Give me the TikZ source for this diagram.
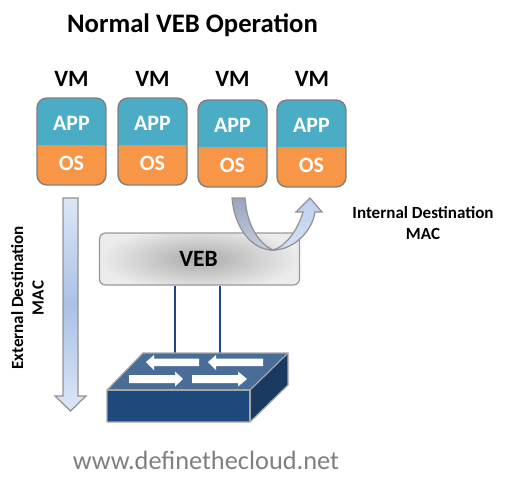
\documentclass[tikz,border=0pt]{standalone}
\usepackage{fontspec}
\setmainfont{Carlito}
\usetikzlibrary{positioning}
\definecolor{appblue}{HTML}{4BACC6}
\definecolor{osorange}{HTML}{F79646}
\definecolor{edgegrey}{HTML}{7F7F7F}
\definecolor{linkblue}{HTML}{1F497D}
\definecolor{swfront}{HTML}{1F497D}
\definecolor{swtop}{HTML}{4A6D98}
\definecolor{swside}{HTML}{1A3A62}
\definecolor{veblight}{HTML}{ECECEC}
\definecolor{webgrey}{HTML}{7F7F7F}
\definecolor{downpale}{HTML}{DDE6F5}
\definecolor{downmid}{HTML}{A9C1E8}
\definecolor{turndark}{HTML}{98A5BE}
\definecolor{turngrey}{HTML}{C3CDDF}
\definecolor{turnhead}{HTML}{BDD0F0}
\definecolor{turnpale}{HTML}{D3DFF5}
\tikzset{
  vmbox/.style={draw=edgegrey,line width=0.8pt,rounded corners=0.2cm,fill=appblue,minimum width=1.38cm,minimum height=1.74cm,inner sep=0pt,
    path picture={\fill[osorange,sharp corners] (path picture bounding box.south west) rectangle ([yshift=0.81cm]path picture bounding box.south east);}},
  vmtext/.style={font=\fontsize{13.3}{15}\selectfont\bfseries,inner sep=0pt},
  parttext/.style={font=\fontsize{12.5}{15}\selectfont\bfseries,text=white,inner sep=0pt},
  captext/.style={font=\fontsize{9.7}{11.6}\selectfont\bfseries,align=center,inner sep=0pt},
  arrowedge/.style={draw=edgegrey!85,line width=0.7pt},
  swedge/.style={draw=gray!70,line width=0.7pt},
  swarrow/.style={fill=white}
}
\begin{document}
\begin{tikzpicture}[x=0.02cm,y=-0.02cm]
  \useasboundingbox (0,0) rectangle (509,480);
  \node [font=\fontsize{15.2}{18}\selectfont\bfseries,inner sep=0pt] (title) at (192.5,25) {Normal VEB Operation};

  \node [vmbox] (vm1) at (71.5,141.5) {};
  \node [parttext] (app1) at (71.5,123) {APP};
  \node [parttext] (os1) at (71.5,163) {OS};
  \node [vmtext] (lab1) at (71.5,79) {VM};
  \node [vmbox] (vm2) at (152.5,141.5) {};
  \node [parttext] (app2) at (152.5,123) {APP};
  \node [parttext] (os2) at (152.5,163) {OS};
  \node [vmtext] (lab2) at (152.5,79) {VM};
  \node [vmbox] (vm3) at (232.5,143.5) {};
  \node [parttext] (app3) at (232.5,125) {APP};
  \node [parttext] (os3) at (232.5,165) {OS};
  \node [vmtext] (lab3) at (232.5,79) {VM};
  \node [vmbox] (vm4) at (311.5,143.5) {};
  \node [parttext] (app4) at (311.5,125) {APP};
  \node [parttext] (os4) at (311.5,165) {OS};
  \node [vmtext] (lab4) at (312,79) {VM};

  % down arrow
  \shade [arrowedge,top color=downpale,bottom color=downpale,middle color=downmid] (63,198) -- (78,198) -- (78,396) -- (86,396) -- (70.5,411) -- (55,396) -- (63,396) -- cycle;
  \node [captext,rotate=90] (extlab) at (27.5,298) {External Destination\\MAC};

  % veb and links
  \node [draw=gray!80,line width=0.7pt,rounded corners=0.12cm,fill=veblight,minimum width=4cm,minimum height=1.04cm,inner sep=0pt,
    path picture={\shade[inner color=black!33,outer color=veblight] (path picture bounding box.center) ellipse (2cm and 0.66cm);}] (veb) at (199.5,259) {};
  \node [vmtext] (veblab) at (198.5,259) {VEB};
  \coordinate (link1) at (175,353);
  \coordinate (link2) at (220,353);
  \draw [linkblue,line width=0.8pt] (veb.south -| link1) -- (link1);
  \draw [linkblue,line width=0.8pt] (veb.south -| link2) -- (link2);

  % switch
  \fill [swtop] (107,390) -- (143,353) -- (288,353) -- (250,390) -- cycle;
  \fill [swside] (250,390) -- (288,353) -- (288,385) -- (250,422) -- cycle;
  \fill [swfront] (107,390) rectangle (250,422);
  \draw [swedge] (107,390) -- (143,353) -- (288,353) -- (288,385) -- (250,422) -- (107,422) -- cycle;
  \draw [swedge] (107,390) -- (250,390) -- (250,422);
  \draw [swedge] (250,390) -- (288,353);
  \fill [swarrow] (146,362) -- (154,355) -- (154,358.5) -- (199,358.5) -- (199,366) -- (154,366) -- (154,370) -- cycle;
  \fill [swarrow] (208,362) -- (216,355) -- (216,358.5) -- (263,358.5) -- (263,366) -- (216,366) -- (216,370) -- cycle;
  \fill [swarrow] (183,379) -- (175,371.5) -- (175,375) -- (129,375) -- (129,383) -- (175,383) -- (175,386.5) -- cycle;
  \fill [swarrow] (247,379) -- (238,371.5) -- (238,375) -- (192,375) -- (192,383) -- (238,383) -- (238,386.5) -- cycle;

  % u-turn arrow
  \shade [arrowedge,top color=turndark,bottom color=turngrey] (232,198) -- (245,198) .. controls (247,225) and (258,243) .. (273,250) .. controls (250,250) and (234,225) .. cycle;
  \shade [arrowedge,top color=turnhead,bottom color=turnpale] (273,250) .. controls (285,247) and (298,230) .. (303,212) -- (296,212) -- (310,198) -- (322,212) -- (315,212) .. controls (312,232) and (293,250) .. cycle;
  \node [captext] (intlab) at (423,223) {Internal Destination\\MAC};

  \node [font=\fontsize{15}{18}\selectfont,text=webgrey,inner sep=0pt] (site) at (206,460) {www.definethecloud.net};
\end{tikzpicture}
\end{document}
